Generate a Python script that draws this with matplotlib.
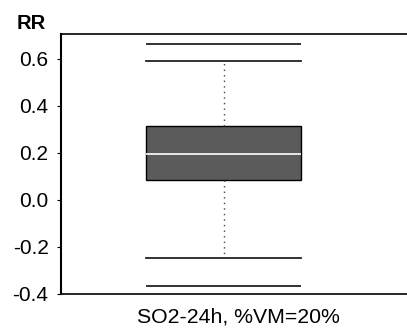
import matplotlib
matplotlib.use("Agg")
import matplotlib.pyplot as plt

# box summary
label = "SO2-24h, %VM=20%"
q1, med, q3 = 0.085, 0.196, 0.315
whisk_lo, whisk_hi = -0.247, 0.592
ext_lo, ext_hi = -0.366, 0.664
yticks = [-0.4, -0.2, 0.0, 0.2, 0.4, 0.6]

plt.rcParams['font.family'] = ['Liberation Sans', 'DejaVu Sans']

fig = plt.figure(figsize=(4.07, 3.28), dpi=100)
ax = fig.add_axes([0.150, 0.1037, 0.86, 0.7926])

stats = [dict(med=med, q1=q1, q3=q3, whislo=whisk_lo, whishi=whisk_hi, fliers=[])]
ax.bxp(stats, positions=[0.465], widths=0.442, patch_artist=True,
       boxprops=dict(facecolor="#5b5b5b", edgecolor="black", linewidth=1),
       medianprops=dict(color="white", linewidth=1.2),
       whiskerprops=dict(color="#444444", linestyle=(0, (1, 3)), linewidth=1),
       capprops=dict(color="#222222", linewidth=1.3), capwidths=0.442)

# outer reference lines
for y in (ext_lo, ext_hi):
    ax.hlines(y, 0.465 - 0.221, 0.465 + 0.221, color="#222222", linewidth=1.3)

ax.set_xlim(0, 1)
ax.set_ylim(-0.4, 0.706)
ax.set_yticks(yticks)
ax.set_yticklabels([f"{t:.1f}" for t in yticks], fontsize=15)
ax.set_xticks([])
ax.tick_params(axis="y", length=3, pad=6)
ax.spines["right"].set_visible(False)
ax.spines["left"].set_linewidth(1.5)
for s in ("top", "bottom"):
    ax.spines[s].set_linewidth(1.2)

# category label sits a bit right of the box centre in the reference
fig.text(0.587, 0.006, label, fontsize=15.3, ha="center", va="bottom")
fig.text(0.042, 0.912, "RR", fontsize=14.5, fontweight="bold")

fig.savefig("out.png", dpi=100)
